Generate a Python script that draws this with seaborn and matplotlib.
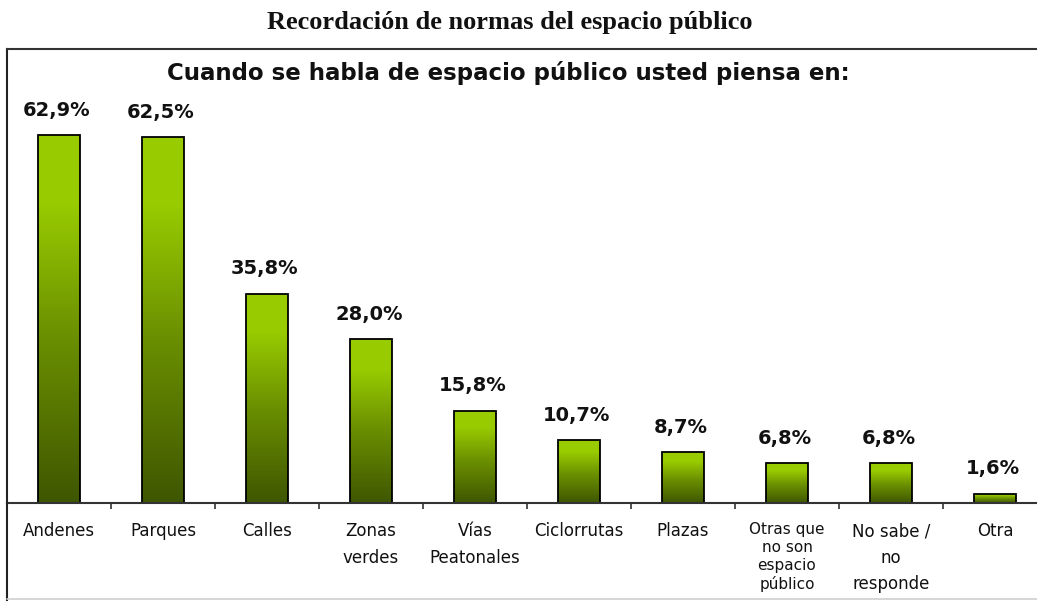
import numpy as np
import pandas as pd
import matplotlib
matplotlib.use("Agg")
import matplotlib.pyplot as plt
import seaborn as sns
from matplotlib.colors import LinearSegmentedColormap
from matplotlib.lines import Line2D

categories = ["Andenes", "Parques", "Calles", "Zonas\nverdes", "Vías\nPeatonales",
              "Ciclorrutas", "Plazas", "Otras que\nno son\nespacio\npúblico",
              "No sabe /\nno\nresponde", "Otra"]
values = [62.9, 62.5, 35.8, 28.0, 15.8, 10.7, 8.7, 6.8, 6.8, 1.6]
value_labels = ["62,9%", "62,5%", "35,8%", "28,0%", "15,8%", "10,7%", "8,7%", "6,8%", "6,8%", "1,6%"]
title = "Recordación de normas del espacio público"
subtitle = "Cuando se habla de espacio público usted piensa en:"

sns.set_style("white")
plt.rcParams["font.family"] = ["DejaVu Sans"]

W, H = 1037, 601
fig = plt.figure(figsize=(W / 100, H / 100), dpi=100)
base_y = 503
top_y = 49
left_x = 7
slot = 104
ax = fig.add_axes([left_x / W, (H - base_y) / H, slot * 10 / W, (base_y - top_y) / H])

df = pd.DataFrame({"cat": categories, "val": values})
sns.barplot(data=df, x="cat", y="val", ax=ax, width=0.40, color="#99CC00",
            edgecolor="black", linewidth=1.3, saturation=1)

ax.set_xlim(-0.5, 9.5)
ax.set_ylim(0, (base_y - top_y) / 5.85)

cmap = LinearSegmentedColormap.from_list(
    "g", [(0.0, "#3F5600"), (0.45, "#6A8F00"), (0.82, "#99CC00"), (1.0, "#99CC00")])
grad = np.linspace(0, 1, 256).reshape(-1, 1)
for p in ax.patches:
    x0, y0 = p.get_x(), p.get_y()
    w, h = p.get_width(), p.get_height()
    im = ax.imshow(grad, cmap=cmap, origin="lower", aspect="auto",
                   extent=[x0, x0 + w, y0, y0 + h], zorder=1.5, interpolation="bilinear")
    im.set_clip_path(p)
    p.set_facecolor("none")
    p.set_zorder(2)
ax.set_xlim(-0.5, 9.5)
ax.set_ylim(0, (base_y - top_y) / 5.85)

for i, (v, lab) in enumerate(zip(values, value_labels)):
    ax.annotate(lab, (i, v), xytext=(-1.5, 14), textcoords="offset points",
                ha="center", va="baseline", fontsize=14, fontweight="bold", color="#111111")

# axes styling
ax.spines["right"].set_visible(False)
ax.spines["left"].set_color("#222222")
ax.spines["top"].set_color("#333333")
ax.spines["bottom"].set_color("#333333")
for s in ["left", "top", "bottom"]:
    ax.spines[s].set_linewidth(1.5)
ax.set_yticks([])
ax.set_xlabel("")
ax.set_ylabel("")

pos = np.arange(len(categories))
ax.set_xticks(pos + 0.5)
ax.set_xticklabels([])
ax.tick_params(axis="x", which="major", direction="out", length=4, width=1.2, color="#333333", bottom=True)
ax.set_xticks(pos, minor=True)
ax.set_xticklabels(categories, minor=True, fontsize=12, color="#111111")
ax.tick_params(axis="x", which="minor", length=0, pad=14)
for i, t in enumerate(ax.get_xticklabels(minor=True)):
    if i == 7:
        t.set_fontsize(11)
        t.set_linespacing(1.22)
    else:
        t.set_linespacing(1.58)
    t.set_va("top")

# frame lines outside the axes
fig.add_artist(Line2D([left_x / W, left_x / W], [0, (H - base_y) / H], color="#222222", lw=1.5))
fig.add_artist(Line2D([left_x / W, 1], [(H - 599) / H, (H - 599) / H], color="#d0d0d0", lw=1.2))

fig.text(510 / W, 1 - 22 / H, title, ha="center", va="center",
         family=["Liberation Serif", "DejaVu Serif"], fontweight="bold", fontsize=19, color="#111111")
fig.text(508 / W, 1 - 73 / H, subtitle, ha="center", va="center",
         fontweight="bold", fontsize=16.5, color="#111111")

fig.savefig("out.png", dpi=100)
